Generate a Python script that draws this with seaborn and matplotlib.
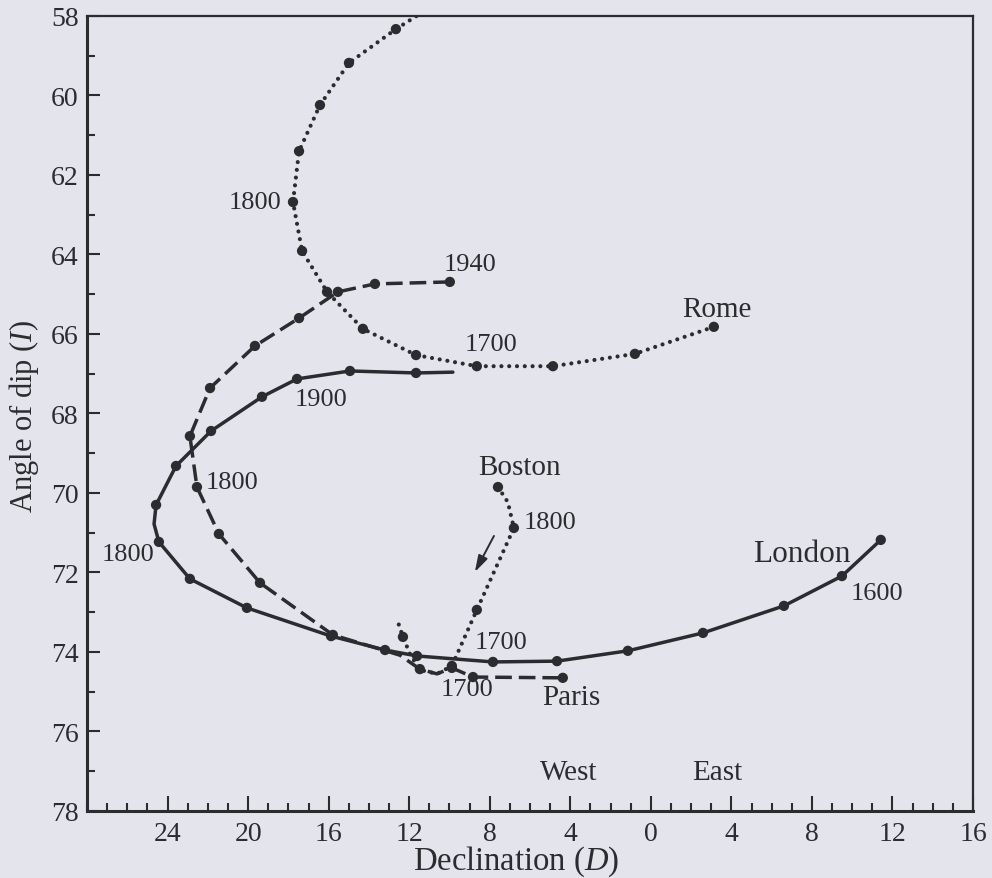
import matplotlib
matplotlib.use("Agg")
import matplotlib.pyplot as plt
import pandas as pd
import seaborn as sns
from matplotlib.ticker import MultipleLocator, FixedLocator, FixedFormatter

# ---------------- data (declination: east positive, west negative; dip in degrees)
london_dec = [11.42, 9.49, 6.61, 2.59, -1.14, -4.66, -7.84, -11.61, -13.20, -15.88,
              -20.06, -22.89, -24.43, -24.67, -24.57, -23.58, -21.84, -19.31, -17.57,
              -14.94, -11.66, -9.83]
london_dip = [71.18, 72.09, 72.84, 73.52, 73.97, 74.23, 74.25, 74.10, 73.95, 73.60,
              72.89, 72.16, 71.23, 70.78, 70.30, 69.32, 68.44, 67.58, 67.13,
              66.93, 66.98, 66.96]
london_dot = [1, 1, 1, 1, 1, 1, 1, 1, 1, 1, 1, 1, 1, 0, 1, 1, 1, 1, 1, 1, 1, 0]

paris_dec = [-9.98, -13.70, -15.54, -17.47, -19.66, -21.89, -22.89, -22.54, -21.45,
             -19.41, -15.79, -12.46, -11.47, -10.62, -9.88, -8.83, -4.37]
paris_dip = [64.69, 64.74, 64.94, 65.60, 66.30, 67.36, 68.57, 69.85, 71.03,
             72.26, 73.57, 74.08, 74.43, 74.55, 74.40, 74.63, 74.65]
paris_dot = [1, 1, 1, 1, 1, 1, 1, 1, 1, 1, 1, 0, 1, 0, 1, 1, 1]

rome_dec = [-11.32, -12.66, -14.99, -16.43, -17.47, -17.77, -17.32, -16.08, -14.30,
            -11.66, -8.64, -4.86, -0.79, 3.13]
rome_dip = [57.90, 58.33, 59.18, 60.24, 61.40, 62.68, 63.91, 64.94, 65.87,
            66.53, 66.81, 66.81, 66.50, 65.82]
rome_dot = [0, 1, 1, 1, 1, 1, 1, 1, 1, 1, 1, 1, 1, 1]

boston_dec = [-7.59, -7.10, -6.80, -8.64, -9.88, -10.62, -11.47, -11.96, -12.31, -12.61]
boston_dip = [69.85, 70.23, 70.88, 72.94, 74.35, 74.55, 74.45, 74.05, 73.62, 73.17]
boston_dot = [1, 0, 1, 1, 1, 0, 0, 0, 1, 0]

# arrow showing direction of time (Boston)
arrow_from = (-7.79, 71.08)
arrow_to = (-8.74, 71.99)

x_tick_values = [-24, -20, -16, -12, -8, -4, 0, 4, 8, 12, 16]
x_tick_labels = ["24", "20", "16", "12", "8", "4", "0", "4", "8", "12", "16"]
y_tick_values = [58, 60, 62, 64, 66, 68, 70, 72, 74, 76, 78]

# text labels: (text, dec, dip, size, ha)
labels = [
    ("1800", -18.32, 62.68, 19, "right"),
    ("1940", -8.98, 64.24, 19, "center"),
    ("Rome", 3.28, 65.37, 21, "center"),
    ("1700", -7.94, 66.25, 19, "center"),
    ("1900", -16.38, 67.64, 19, "center"),
    ("1800", -20.80, 69.72, 19, "center"),
    ("1800", -25.96, 71.53, 19, "center"),
    ("Boston", -6.50, 69.35, 21, "center"),
    ("1800", -5.01, 70.73, 19, "center"),
    ("1700", -7.44, 73.75, 19, "center"),
    ("1700", -9.13, 74.93, 19, "center"),
    ("Paris", -3.97, 75.13, 21, "center"),
    ("London", 7.50, 71.53, 22.5, "center"),
    ("1600", 11.23, 72.52, 19, "center"),
    ("West", -4.07, 77.02, 21, "center"),
    ("East", 3.28, 77.02, 21, "center"),
]

# ---------------- style
sns.set_theme(style="ticks")
paper = "#e4e4ec"
ink = "#2b2b30"
plt.rcParams["font.family"] = ["Liberation Serif", "DejaVu Serif"]
plt.rcParams["mathtext.fontset"] = "custom"
plt.rcParams["mathtext.rm"] = "Liberation Serif"
plt.rcParams["mathtext.it"] = "Liberation Serif:italic"
plt.rcParams["lines.scale_dashes"] = False
plt.rcParams["text.color"] = ink
plt.rcParams["axes.labelcolor"] = ink
plt.rcParams["xtick.color"] = ink
plt.rcParams["ytick.color"] = ink

fig = plt.figure(figsize=(9.92, 8.79), dpi=100, facecolor=paper)
ax = fig.add_axes([87 / 992, 1 - 812 / 879, 886 / 992, 795 / 879])
ax.set_facecolor(paper)

series = [
    (london_dec, london_dip, london_dot, "-", "butt"),
    (paris_dec, paris_dip, paris_dot, (0, (12, 5)), "butt"),
    (rome_dec, rome_dip, rome_dot, (0, (0.01, 5.6)), "round"),
    (boston_dec, boston_dip, boston_dot, (0, (0.01, 5.6)), "round"),
]
for dec, dip, dot, ls, cap in series:
    df = pd.DataFrame({"dec": dec, "dip": dip, "dot": dot})
    lw = 2.5 if cap == "butt" else 3.0
    sns.lineplot(data=df, x="dec", y="dip", sort=False, estimator=None, color=ink,
                 linewidth=lw, linestyle=ls, dash_capstyle=cap, ax=ax, zorder=2)
    sns.scatterplot(data=df[df["dot"] == 1], x="dec", y="dip", color=ink, s=55,
                    edgecolor="none", linewidth=0, ax=ax, zorder=3)

ax.annotate("", xy=arrow_to, xytext=arrow_from,
            arrowprops=dict(arrowstyle="-|>,head_length=0.5,head_width=0.15",
                            mutation_scale=20, color=ink, lw=1.4,
                            shrinkA=0, shrinkB=0))

for txt, x, y, size, ha in labels:
    ax.text(x, y, txt, fontsize=size, ha=ha, va="center", color=ink)

ax.set_xlim(-28, 16)
ax.set_ylim(78, 58)

ax.xaxis.set_major_locator(FixedLocator(x_tick_values))
ax.xaxis.set_major_formatter(FixedFormatter(x_tick_labels))
ax.xaxis.set_minor_locator(MultipleLocator(1))
ax.yaxis.set_major_locator(FixedLocator(y_tick_values))
ax.yaxis.set_minor_locator(MultipleLocator(1))

ax.tick_params(axis="x", which="major", direction="in", length=11, width=1.5,
               labelsize=20, pad=7, top=False)
ax.tick_params(axis="y", which="major", direction="in", length=9.5, width=1.5,
               labelsize=20, pad=6, right=False)
ax.tick_params(which="minor", direction="in", length=5.5, width=1.5, top=False, right=False)

for side in ["left", "bottom"]:
    ax.spines[side].set_linewidth(2.2)
    ax.spines[side].set_color(ink)
for side in ["top", "right"]:
    ax.spines[side].set_visible(True)
    ax.spines[side].set_linewidth(1.6)
    ax.spines[side].set_color(ink)

ax.set_xlabel("Declination ($D$)", fontsize=23.5)
ax.set_ylabel("Angle of dip ($I$)", fontsize=22)
ax.xaxis.set_label_coords(0.484, -0.063)
ax.xaxis.label.set_va("center")
ax.yaxis.set_label_coords(-0.071, 0.497)
ax.yaxis.label.set_va("center")

fig.savefig("out.png", dpi=100, facecolor=paper)
